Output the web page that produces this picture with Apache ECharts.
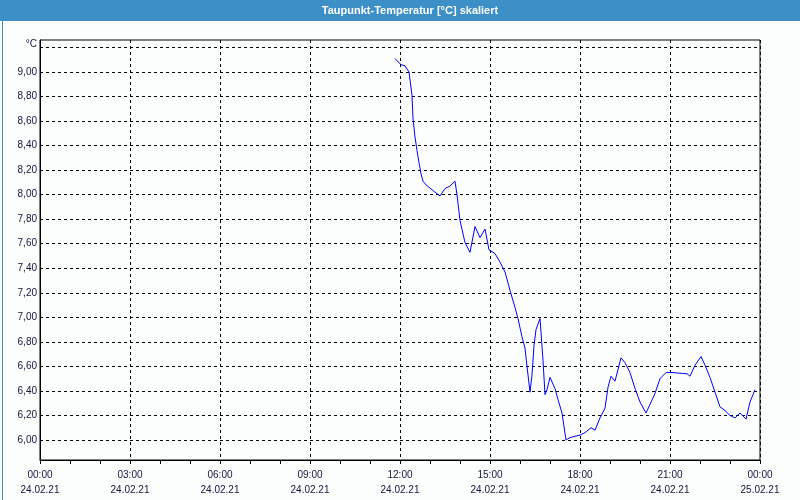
<!DOCTYPE html>
<html>
<head>
<meta charset="utf-8">
<title>Taupunkt-Temperatur</title>
<script src="https://cdn.jsdelivr.net/npm/echarts@6/dist/echarts.min.js"></script>
<style>
  html, body { margin: 0; padding: 0; background: #fcfefd; }
  #chart { width: 800px; height: 500px; }
</style>
</head>
<body>
<div id="chart"></div>
<script>
// Messzeitpunkte (24.02.21) und Taupunkt in °C
const times = [
  '11:50','12:02','12:10','12:18','12:24','12:26','12:30','12:34','12:38','12:42',
  '12:46','12:52','12:58','13:10','13:20','13:30','13:40','13:50','13:54','14:00',
  '14:10','14:20','14:30','14:40','14:50','14:58','15:10','15:20','15:30','15:40',
  '15:50','15:56','16:04','16:10','16:14','16:20','16:24','16:28','16:32','16:40',
  '16:46','16:50','16:54','17:00','17:10','17:16','17:24','17:32','17:40','17:50',
  '18:00','18:10','18:22','18:30','18:40','18:50','18:56','19:02','19:10','19:22',
  '19:30','19:40','19:50','20:00','20:12','20:20','20:30','20:40','20:52','21:04',
  '21:34','21:40','21:50','22:02','22:10','22:20','22:30','22:40','22:50','23:00',
  '23:10','23:20','23:32','23:40','23:50'
];
const dewPoint = [
  9.11, 9.06, 9.05, 9.00, 8.81, 8.62, 8.47, 8.36, 8.26, 8.17,
  8.11, 8.08, 8.06, 8.02, 7.99, 8.05, 8.07, 8.11, 8.00, 7.79,
  7.61, 7.53, 7.74, 7.65, 7.72, 7.55, 7.52, 7.45, 7.37, 7.22,
  7.08, 6.99, 6.84, 6.75, 6.60, 6.39, 6.53, 6.77, 6.90, 6.99,
  6.65, 6.37, 6.41, 6.51, 6.42, 6.33, 6.22, 6.00, 6.02, 6.03,
  6.04, 6.06, 6.10, 6.08, 6.18, 6.26, 6.43, 6.52, 6.48, 6.67,
  6.63, 6.55, 6.42, 6.31, 6.22, 6.29, 6.38, 6.50, 6.55, 6.55,
  6.54, 6.52, 6.61, 6.68, 6.61, 6.51, 6.39, 6.27, 6.24, 6.20,
  6.18, 6.22, 6.17, 6.31, 6.41
];

// Achsenbeschriftung
const timeLabels = ['00:00','03:00','06:00','09:00','12:00','15:00','18:00','21:00','00:00'];
const dateLabels = ['24.02.21','24.02.21','24.02.21','24.02.21','24.02.21','24.02.21','24.02.21','24.02.21','25.02.21'];
const yTicks = [6.0, 6.2, 6.4, 6.6, 6.8, 7.0, 7.2, 7.4, 7.6, 7.8, 8.0, 8.2, 8.4, 8.6, 8.8, 9.0, 9.2];

function toHours(t) {
  const p = t.split(':');
  return Number(p[0]) + Number(p[1]) / 60;
}

const seriesData = times.map((t, i) => [toHours(t), dewPoint[i]]);

const labelFont = 'Liberation Sans';
const labelColor = '#141440';

let mychart = echarts.init(document.getElementById('chart'));
mychart.setOption({
  animation: false,
  backgroundColor: '#fcfefd',
  graphic: [
    { type: 'rect', left: 0, top: 0, shape: { width: 800, height: 21 }, style: { fill: '#3c8fc7' }, z: 0 },
    { type: 'rect', left: 0, top: 0, shape: { width: 799, height: 499 }, style: { fill: 'none', stroke: '#3c8fc7', lineWidth: 1 }, z: 0 },
    {
      type: 'text', x: 410, y: 11, z: 10,
      style: {
        text: 'Taupunkt-Temperatur [°C] skaliert',
        fill: '#ffffff', font: 'bold 11px "Liberation Sans"',
        align: 'center', verticalAlign: 'middle'
      }
    }
  ],
  grid: {
    left: 40, right: 40, top: 40, bottom: 40,
    show: true, borderColor: '#000', borderWidth: 1
  },
  xAxis: {
    type: 'value',
    min: 0,
    max: 24,
    interval: 3,
    axisLine: { lineStyle: { color: '#000', width: 1 } },
    axisTick: { show: true, length: 4, lineStyle: { color: '#000' } },
    minorTick: { show: true, splitNumber: 3, length: 4, lineStyle: { color: '#000' } },
    splitLine: { show: true, lineStyle: { color: '#000', type: [3, 3], width: 1 } },
    axisLabel: {
      margin: 8,
      fontFamily: labelFont,
      fontSize: 10,
      lineHeight: 15,
      color: labelColor,
      formatter: function (v) {
        const i = Math.round(v / 3);
        return timeLabels[i] + '\n' + dateLabels[i];
      }
    }
  },
  yAxis: {
    type: 'value',
    min: 5.837,
    max: 9.261,
    axisLine: { show: true, lineStyle: { color: '#000', width: 1 } },
    axisTick: { show: false, customValues: yTicks },
    splitLine: { show: true, lineStyle: { color: '#000', type: [3, 3], width: 1 } },
    axisLabel: {
      customValues: yTicks,
      margin: 3,
      fontFamily: labelFont,
      fontSize: 10,
      color: labelColor,
      formatter: function (v) {
        if (Math.abs(v - 9.2) < 1e-6) return '{u|°C}';
        return v.toFixed(2).replace('.', ',');
      },
      rich: { u: { fontFamily: labelFont, fontSize: 10, color: labelColor, padding: [0, 0, 7, 0] } }
    }
  },
  series: [
    {
      name: 'Taupunkt',
      type: 'line',
      data: seriesData,
      showSymbol: false,
      lineStyle: { color: '#0000ff', width: 1 },
      itemStyle: { color: '#0000ff' }
    }
  ]
});
</script>
</body>
</html>
